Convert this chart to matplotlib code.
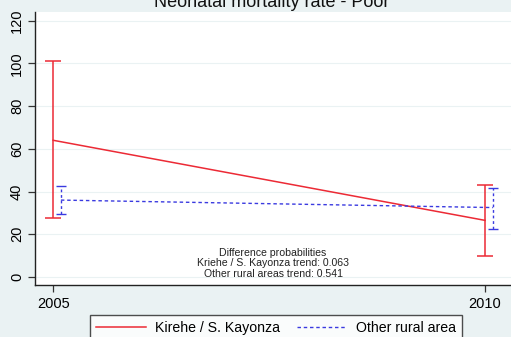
import matplotlib
matplotlib.use("Agg")
import matplotlib.pyplot as plt

# Datos: tasa de mortalidad neonatal, quintil pobre
anios = [2005, 2010]
kirehe = [64.0, 26.5]
kirehe_inf = [27.5, 9.8]
kirehe_sup = [101.0, 43.2]
rural = [36.0, 32.5]
rural_inf = [29.5, 22.5]
rural_sup = [42.5, 41.8]
desplazamiento = 0.09  # desplaza la serie rural para que no se encimen las barras

fondo = '#eaf2f3'
rojo = '#ec2a35'
azul = '#3a3ae0'

plt.rcParams['font.family'] = ['Liberation Sans', 'DejaVu Sans']

fig = plt.figure(figsize=(5.11, 3.37), dpi=100, facecolor=fondo)
ax = fig.add_axes([35/511, 52/337, 476/511, 273/337])
ax.set_facecolor('white')

# Intervalos de confianza
err_k = [[v - lo for v, lo in zip(kirehe, kirehe_inf)],
         [hi - v for v, hi in zip(kirehe, kirehe_sup)]]
ax.errorbar(anios, kirehe, yerr=err_k, fmt='none', ecolor=rojo,
            elinewidth=1.1, capsize=6, capthick=1.1, zorder=3)

x_rural = [a + desplazamiento for a in anios]
err_r = [[v - lo for v, lo in zip(rural, rural_inf)],
         [hi - v for v, hi in zip(rural, rural_sup)]]
_, caps, barras = ax.errorbar(x_rural, rural, yerr=err_r, fmt='none', ecolor=azul,
                              elinewidth=1.0, capsize=3.5, capthick=1.0, zorder=3)
for b in barras:
    b.set_linestyle((0, (2, 2)))

# Lineas de tendencia
ax.plot(anios, kirehe, color=rojo, lw=1.1, label='Kirehe / S. Kayonza', zorder=4)
ax.plot(x_rural, rural, color=azul, lw=1.0, ls=(0, (2.5, 2)),
        label='Other rural area', zorder=4)

ax.set_xlim(2004.79, 2010.30)
ax.set_ylim(-3.75, 124.05)
ax.set_xticks(anios)
ax.set_yticks(range(0, 121, 20))
ax.yaxis.grid(True, color=fondo, lw=0.8)
ax.set_axisbelow(True)
for lbl in ax.get_yticklabels():
    lbl.set_rotation(90)
    lbl.set_va('center')
ax.tick_params(axis='both', labelsize=10.5, length=5, width=0.9, color='#333333')
ax.tick_params(axis='x', pad=4)
ax.tick_params(axis='y', pad=3)
for lado in ['top', 'right']:
    ax.spines[lado].set_visible(False)
for lado in ['left', 'bottom']:
    ax.spines[lado].set_color('#222222')
    ax.spines[lado].set_linewidth(1.0)

ax.text(0.5, 0.022, 'Difference probabilities\nKriehe / S. Kayonza trend: 0.063\n'
        'Other rural areas trend: 0.541', transform=ax.transAxes,
        ha='center', va='bottom', fontsize=7.6, linespacing=1.08, color='#222222')

fig.text(272/511, 1 - 7/337, 'Neonatal mortality rate - Poor', ha='center',
         va='baseline', fontsize=13, color='#111111')

leg = fig.legend(loc='upper left', bbox_to_anchor=(90/511, 1 - 315/337), ncol=2,
                 fontsize=10.2, frameon=True, fancybox=False, handlelength=3.5,
                 handletextpad=0.65, columnspacing=1.2, borderpad=0.45,
                 borderaxespad=0, edgecolor='#222222')
leg.get_frame().set_linewidth(1.0)

fig.savefig('out.png', dpi=100, facecolor=fondo)
